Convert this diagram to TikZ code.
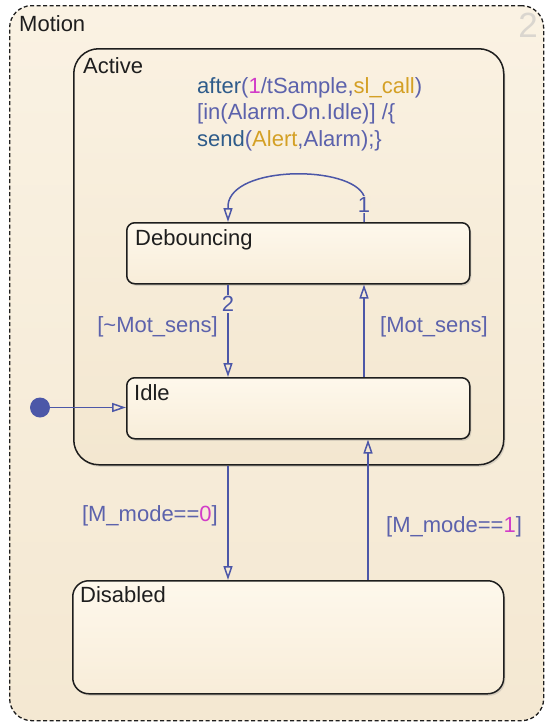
\documentclass[tikz,border=0pt]{standalone}
\usepackage{fontspec}
\setmainfont{Liberation Sans}
\usetikzlibrary{arrows.meta,positioning,calc,shadows}
\definecolor{ink}{HTML}{1E1E1E}
\definecolor{wire}{HTML}{4C57A8}
\definecolor{guard}{HTML}{5C62AC}
\definecolor{keyw}{HTML}{2E5B8A}
\definecolor{numc}{HTML}{D23CC8}
\definecolor{strc}{HTML}{D4A025}
\definecolor{charttop}{HTML}{FAF2E3}
\definecolor{chartbot}{HTML}{F4E8D2}
\definecolor{supertop}{HTML}{FAF1E1}
\definecolor{superbot}{HTML}{F3E7D0}
\definecolor{supermid}{HTML}{F7EDDA}
\definecolor{statetop}{HTML}{FEF8EC}
\definecolor{statebot}{HTML}{F8EDD9}
\definecolor{chartno}{HTML}{DAD6CF}

\tikzset{
  chartbox/.style={draw=ink, line width=1.3pt, dash pattern=on 4pt off 2.5pt,
    anchor=north west, inner sep=0pt, rounded corners=22pt,
    top color=charttop, bottom color=chartbot},
  statebox/.style={draw=ink, line width=1.5pt, anchor=north west, inner sep=0pt,
    top color=statetop, bottom color=statebot,
    drop shadow={shadow xshift=1.5pt, shadow yshift=-2pt, opacity=0.25}},
  statename/.style={anchor=base west, inner sep=0pt, text=ink},
  guardlbl/.style={inner sep=0pt, text=guard},
  trans/.style={wire, line width=1.5pt, -{Triangle[open, length=14pt, width=9pt]}},
  order/.style={inner sep=1pt, text=wire, fill=supermid},
}

\begin{document}
\begin{tikzpicture}[x=1pt, y=-1pt, font=\fontsize{22}{26}\selectfont]
  \useasboundingbox (0,0) rectangle (545,723);

  % chart and states
  \node[chartbox, minimum width=534pt, minimum height=715pt] (motion) at (9,5) {};
  \node[statebox, rounded corners=25pt, top color=supertop, bottom color=superbot,
    minimum width=430pt, minimum height=416pt] (active) at (73,48) {};
  \node[statebox, rounded corners=8pt, minimum width=343pt, minimum height=61pt]
    (deb) at (126,222) {};
  \node[statebox, rounded corners=8pt, minimum width=343pt, minimum height=61pt]
    (idle) at (126,377) {};
  \node[statebox, rounded corners=16pt, minimum width=431pt, minimum height=113pt]
    (disabled) at (72,580) {};

  \node[statename] (motionname) at ($(motion.north west)+(10,26)$) {Motion};
  \node[statename] (activename) at ($(active.north west)+(10,25)$) {Active};
  \node[statename] (debname) at ($(deb.north west)+(9,23)$) {Debouncing};
  \node[statename] (idlename) at ($(idle.north west)+(8,23)$) {Idle};
  \node[statename] (disabledname) at ($(disabled.north west)+(8,22)$) {Disabled};
  \node[anchor=base east, inner sep=0pt, text=chartno,
    font=\fontsize{35}{35}\selectfont] (chartnum) at (538,37) {2};

  % action of Active
  \node[statename, text=guard] (act1) at (197,93)
    {\textcolor{keyw}{after}(\textcolor{numc}{1}/tSample,\textcolor{strc}{sl\_call})};
  \node[statename, text=guard] (act2) at (197,119.5) {[in(Alarm.On.Idle)] /\{};
  \node[statename, text=guard] (act3) at (197,146)
    {\textcolor{keyw}{send}(\textcolor{strc}{Alert},Alarm);\}};

  % transitions
  \coordinate (colL) at (228,0);
  \coordinate (colR) at (364,0);
  \coordinate (colD) at (368,0);
  \draw[trans] (deb.north -| colR) -- ++(0,-26)
    .. controls +(-13,-31) and +(4,-40) .. ($(deb.north -| colL)+(0,-17)$)
    -- (deb.north -| colL);
  \draw[trans] (deb.south -| colL) -- (idle.north -| colL);
  \draw[trans] (idle.north -| colR) -- (deb.south -| colR);
  \draw[trans] (active.south -| colL) -- (disabled.north -| colL);
  \draw[trans] (disabled.north -| colD) -- (idle.south -| colD);
  \node[order] (ord1) at (364,204.5) {1};
  \node[order] (ord2) at (228,304) {2};

  % default transition
  \node[circle, fill=wire, minimum size=20pt, inner sep=0pt] (init) at (40,407.5) {};
  \draw[trans] (init) -- (init -| idle.west);

  % guards
  \node[guardlbl, anchor=base east] (gnot) at (218,332) {[\textasciitilde Mot\_sens]};
  \node[guardlbl, anchor=base west] (gmot) at (380,332) {[Mot\_sens]};
  \node[guardlbl, anchor=base east] (gm0) at (218,521)
    {[M\_mode==\textcolor{numc}{0}]};
  \node[guardlbl, anchor=base west] (gm1) at (386,532)
    {[M\_mode==\textcolor{numc}{1}]};
\end{tikzpicture}
\end{document}
